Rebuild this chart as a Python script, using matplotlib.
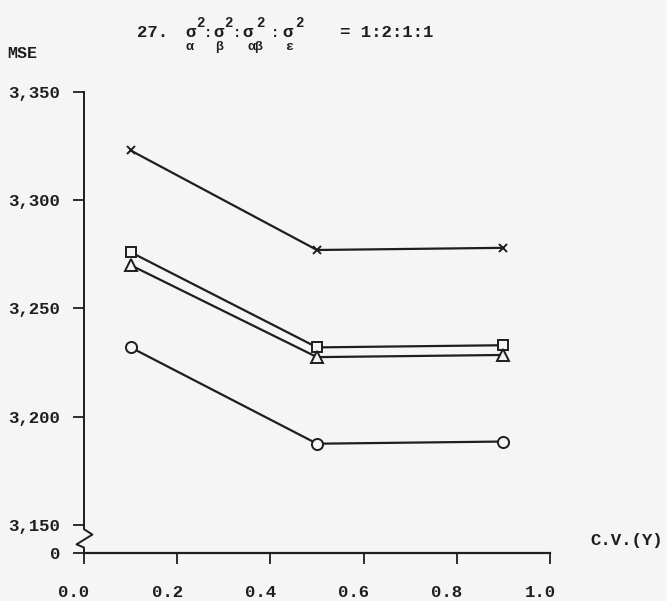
import matplotlib
matplotlib.use('Agg')
import matplotlib.pyplot as plt
from matplotlib.transforms import ScaledTranslation

plt.rcParams['font.family'] = ['Liberation Mono', 'DejaVu Sans']
plt.rcParams['font.weight'] = 'bold'

# data
cv = [0.1, 0.5, 0.9]
mse_x = [3323, 3277, 3278]
mse_square = [3276, 3232, 3233]
mse_triangle = [3270, 3227.5, 3228.5]
mse_circle = [3232, 3187.5, 3188.5]

yticks = [3150, 3200, 3250, 3300, 3350]
ytick_labels = ['3,150', '3,200', '3,250', '3,300', '3,350']
xticks = [0.0, 0.2, 0.4, 0.6, 0.8, 1.0]
xtick_labels = ['0.0', '0.2', '0.4', '0.6', '0.8', '1.0']
y_bottom = 3137  # where the broken axis meets zero

paper = '#f6f5f5'
ink = '#1e1e1e'

fig = plt.figure(figsize=(6.67, 6.01), dpi=100, facecolor=paper)
ax = fig.add_axes([84/667, 48/601, 466/667, 461/601])
ax.set_facecolor(paper)

mk = dict(color=ink, lw=1.6, markeredgewidth=1.4, markerfacecolor=paper)
ax.plot(cv, mse_x, marker='x', markersize=6, **mk)
ax.plot(cv, mse_square, marker='s', markersize=7, **mk)
ax.plot(cv, mse_triangle, marker='^', markersize=8, **mk)
ax.plot(cv, mse_circle, marker='o', markersize=8, **mk)

ax.set_xlim(0, 1.0)
ax.set_ylim(y_bottom, 3350)

for s in ['top', 'right']:
    ax.spines[s].set_visible(False)
ax.spines['left'].set_bounds(3150, 3350)
ax.spines['left'].set_linewidth(1.4)
ax.spines['bottom'].set_linewidth(1.6)
ax.spines['left'].set_color(ink)
ax.spines['bottom'].set_color(ink)

# zigzag break on the y axis
ax.plot([0, 0, 0.018, -0.016, 0, 0],
        [3150, 3148, 3145.5, 3141, 3139.5, y_bottom],
        color=ink, lw=1.4, clip_on=False)

ax.set_yticks(yticks + [y_bottom])
ax.set_yticklabels(ytick_labels + ['0'])
ax.set_xticks(xticks)
ax.set_xticklabels(xtick_labels)
ax.tick_params(axis='y', length=8, width=1.3, pad=9, labelsize=12.5, colors=ink)
ax.tick_params(axis='x', length=8, width=1.3, pad=15, labelsize=12.5, colors=ink)

for lab in ax.get_xticklabels():
    lab.set_transform(lab.get_transform() + ScaledTranslation(-0.1, 0, fig.dpi_scale_trans))

fig.text(7/667, 1 - 54/601, 'MSE', fontsize=12, va='center', ha='left', color=ink)
fig.text(590/667, 1 - 541/601, 'C.V.(Y)', fontsize=12.5, va='center', ha='left', color=ink)

# title, typed piece by piece like on the typewriter
def px(x, y_from_top, s, size=12.5, ha='left'):
    fig.text(x/667, 1 - y_from_top/601, s, fontsize=size, va='baseline', ha=ha, color=ink)

base, sup, sub = 37, 27, 50
px(137, base, '27.')
for xs, xsup, xsub, letter in [(185, 196, 186, 'α'), (213, 224, 215, 'β'),
                               (242, 256, 247, 'αβ'), (282, 295, 285, 'ε')]:
    px(xs, base, 'σ')
    px(xsup, sup, '2', size=10)
    px(xsub, sub, letter, size=9.5)
for xc in [208.5, 237.5, 275.5]:
    px(xc, base, ':', size=10, ha='center')
px(340, base, '= 1:2:1:1')

fig.savefig('out.png', dpi=100, facecolor=paper)
